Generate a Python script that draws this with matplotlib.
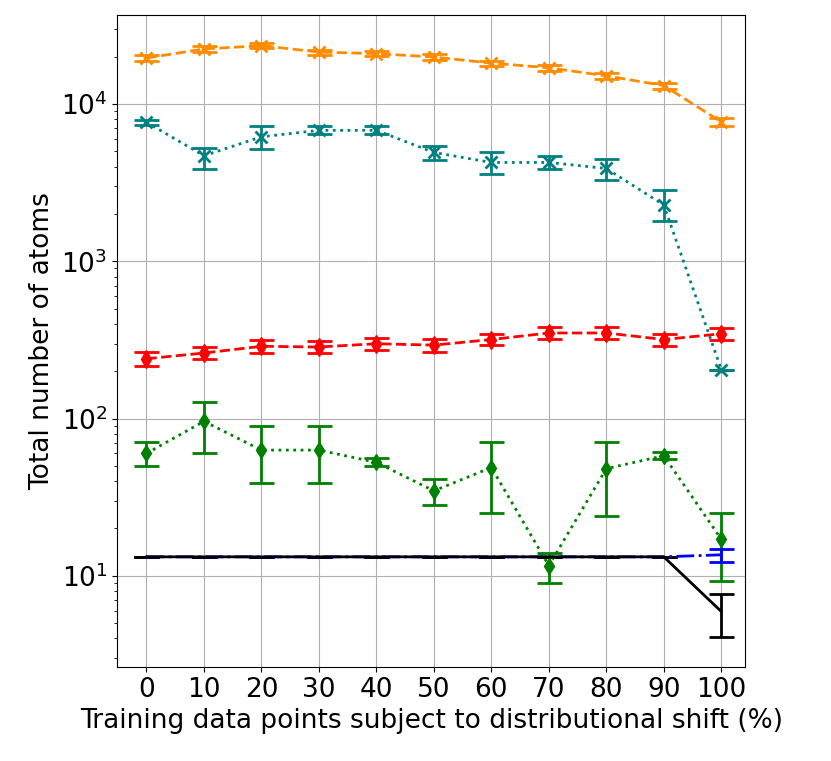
import matplotlib
matplotlib.use("Agg")
import matplotlib.pyplot as plt
import numpy as np

x = [0, 10, 20, 30, 40, 50, 60, 70, 80, 90, 100]
xtick_labels = ["0", "10", "20", "30", "40", "50", "60", "70", "80", "90", "100"]

orange = [19600, 22400, 23500, 21400, 20900, 19900, 18200, 17000, 15100, 13100, 7700]
orange_err = [800, 900, 900, 800, 800, 800, 700, 700, 600, 600, 400]

teal = [7650, 4690, 6190, 6800, 6800, 4920, 4250, 4250, 3890, 2280, 205]
teal_lo = [300, 850, 1000, 400, 400, 520, 670, 400, 610, 480, 0]
teal_hi = [300, 570, 1050, 400, 400, 480, 700, 450, 580, 560, 0]

red = [240, 261, 288, 285, 299, 293, 318, 350, 350, 318, 346]
red_err = [25, 22, 28, 25, 28, 28, 25, 30, 30, 28, 28]

green = [60, 96, 63, 63, 52.6, 34.7, 48.8, 11.6, 48, 58, 17.1]
green_lo = [10, 36, 24, 24, 3, 6.7, 23.8, 2.6, 24, 3, 7.9]
green_hi = [11, 32, 26, 26, 3.5, 6.3, 22.2, 2.4, 23, 3, 7.9]

blue = [13.2, 13.2, 13.2, 13.2, 13.2, 13.2, 13.2, 13.2, 13.2, 13.2, 13.6]
blue_lo = [0, 0, 0, 0, 0, 0, 0, 0, 0, 0, 1.3]
blue_hi = [0, 0, 0, 0, 0, 0, 0, 0, 0, 0, 1.3]

black = [13.2, 13.2, 13.2, 13.2, 13.2, 13.2, 13.2, 13.2, 13.2, 13.2, 5.93]
black_lo = [0, 0, 0, 0, 0, 0, 0, 0, 0, 0, 1.83]
black_hi = [0, 0, 0, 0, 0, 0, 0, 0, 0, 0, 1.77]

plt.rcParams["font.size"] = 20
fig = plt.figure(figsize=(8.31, 7.61), dpi=100)
ax = fig.add_axes([0.141, 0.1235, 0.756, 0.857])

kw = dict(capsize=9, lw=2, elinewidth=2, capthick=2)
ax.errorbar(x, orange, yerr=orange_err, color="darkorange", ls="--", marker="x", ms=8, mew=2, **kw)
ax.errorbar(x, teal, yerr=[teal_lo, teal_hi], color="teal", ls=":", marker="x", ms=8, mew=2, **kw)
ax.errorbar(x, red, yerr=red_err, color="red", ls="--", marker="d", ms=9, **kw)
ax.errorbar(x, green, yerr=[green_lo, green_hi], color="green", ls=":", marker="d", ms=8, **kw)
ax.errorbar(x, blue, yerr=[blue_lo, blue_hi], color="blue", ls="-.", **kw)
ax.errorbar(x, black, yerr=[black_lo, black_hi], color="black", ls="-", **kw)

ax.set_yscale("log")
ax.set_ylim(2.63, 36900)
ax.set_xlim(-5.1, 104.2)
ax.set_xticks(x)
ax.set_xticklabels(xtick_labels)
ax.tick_params(labelsize=19)
ax.grid(True, which="major", color="#b0b0b0")
ax.set_axisbelow(True)
ax.set_xlabel("Training data points subject to distributional shift (%)", fontsize=19)
ax.set_ylabel("Total number of atoms", fontsize=19)
fig.savefig("out.png", dpi=100)
